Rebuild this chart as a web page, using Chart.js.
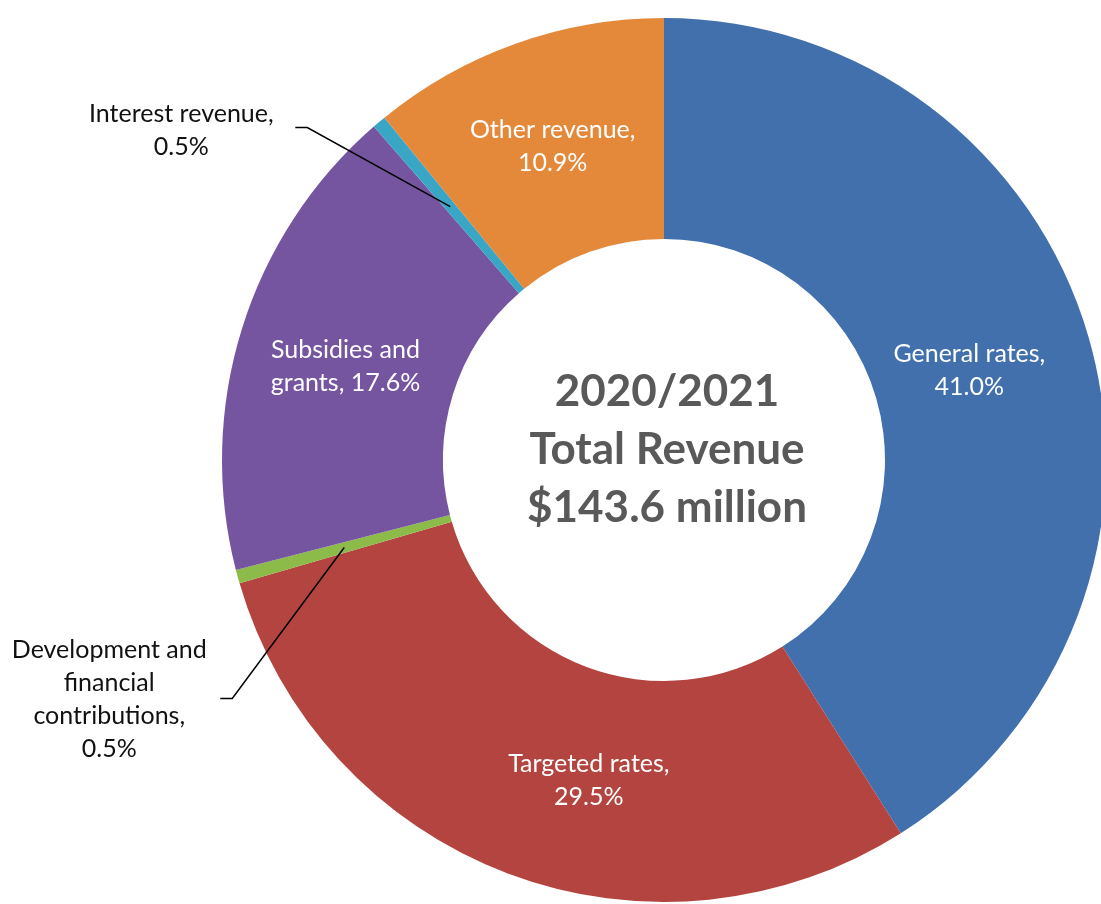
<!DOCTYPE html>
<html>
<head>
<meta charset="utf-8">
<title>2020/2021 Total Revenue</title>
<script src="https://cdn.jsdelivr.net/npm/chart.js@4.4.1/dist/chart.umd.min.js"></script>
<style>
  html, body { margin: 0; padding: 0; background: #ffffff; }
  #revenueChart { display: block; }
</style>
</head>
<body>
<canvas id="revenueChart" width="1101" height="904"></canvas>
<script>
// Revenue sources, clockwise from 12 o'clock
const categories = [
    'General rates',
    'Targeted rates',
    'Development and financial contributions',
    'Subsidies and grants',
    'Interest revenue',
    'Other revenue'
];
const shares = [41.0, 29.5, 0.5, 17.6, 0.5, 10.9];

// How each slice label breaks into lines; {v} becomes the percentage
const labelLines = [
    ['General rates,', '{v}'],
    ['Targeted rates,', '{v}'],
    ['Development and', 'financial', 'contributions,', '{v}'],
    ['Subsidies and', 'grants, {v}'],
    ['Interest revenue,', '{v}'],
    ['Other revenue,', '{v}']
];

const centerTitle = ['2020/2021', 'Total Revenue', '$143.6 million'];

const sliceColors = ['#4170ad', '#b4443f', '#8cbb4a', '#7555a0', '#3aa6c6', '#e4883a'];

const LABEL_FONT = '25px Lato, "Open Sans", sans-serif';
const LABEL_LINE = 33;

// Small slices get their label outside the ring with a leader line.
// elbow: bend of the leader relative to the slice point, text: label centre relative to the slice point
const outsideLabels = {
    2: { elbow: [-112, 151], text: [-235, 152] },
    4: { elbow: [-143, -79], text: [-269, -76] }
};
// nudges for labels that sit inside their slice
const insideNudge = {
    0: [-13, 3],
    1: [42, 10],
    3: [-2, 5],
    5: [0, -1]
};

function labelText(i) {
    const pct = shares[i].toFixed(1) + '%';
    return labelLines[i].map(s => s.replace('{v}', pct));
}

function drawLines(ctx, lines, x, y, lineHeight) {
    const top = y - (lines.length - 1) * lineHeight / 2;
    lines.forEach((line, k) => ctx.fillText(line, x, top + k * lineHeight));
}

const sliceLabelPlugin = {
    id: 'sliceLabels',
    afterDatasetsDraw(chart) {
        const ctx = chart.ctx;
        const meta = chart.getDatasetMeta(0);
        ctx.save();
        ctx.font = LABEL_FONT;
        ctx.textAlign = 'center';
        ctx.textBaseline = 'middle';
        meta.data.forEach((arc, i) => {
            const p = arc.tooltipPosition(true);
            const lines = labelText(i);
            const out = outsideLabels[i];
            if (out) {
                const ex = p.x + out.elbow[0];
                const ey = p.y + out.elbow[1];
                ctx.beginPath();
                ctx.moveTo(p.x, p.y);
                ctx.lineTo(ex, ey);
                ctx.lineTo(ex - 12, ey);
                ctx.strokeStyle = '#000000';
                ctx.lineWidth = 1.5;
                ctx.stroke();
                ctx.fillStyle = '#111111';
                drawLines(ctx, lines, p.x + out.text[0], p.y + out.text[1], LABEL_LINE);
            } else {
                const n = insideNudge[i] || [0, 0];
                ctx.fillStyle = '#ffffff';
                drawLines(ctx, lines, p.x + n[0], p.y + n[1], LABEL_LINE);
            }
        });
        ctx.restore();
    }
};

const centerTextPlugin = {
    id: 'centerText',
    afterDatasetsDraw(chart) {
        const arc = chart.getDatasetMeta(0).data[0];
        const ctx = chart.ctx;
        ctx.save();
        ctx.font = 'bold 44px Lato, "Open Sans", sans-serif';
        ctx.fillStyle = '#595959';
        ctx.textAlign = 'center';
        ctx.textBaseline = 'middle';
        drawLines(ctx, centerTitle, arc.x + 3, arc.y - 10, 58);
        ctx.restore();
    }
};

const ctx = document.getElementById('revenueChart').getContext('2d');
new Chart(ctx, {
    type: 'doughnut',
    data: {
        labels: categories,
        datasets: [{
            data: shares,
            backgroundColor: sliceColors,
            borderWidth: 0
        }]
    },
    options: {
        responsive: false,
        animation: false,
        radius: 442,
        cutout: '50%',
        layout: {
            padding: { left: 227, top: 16, right: 0, bottom: 0 }
        },
        plugins: {
            legend: { display: false },
            tooltip: { enabled: false }
        }
    },
    plugins: [sliceLabelPlugin, centerTextPlugin]
});
</script>
</body>
</html>
